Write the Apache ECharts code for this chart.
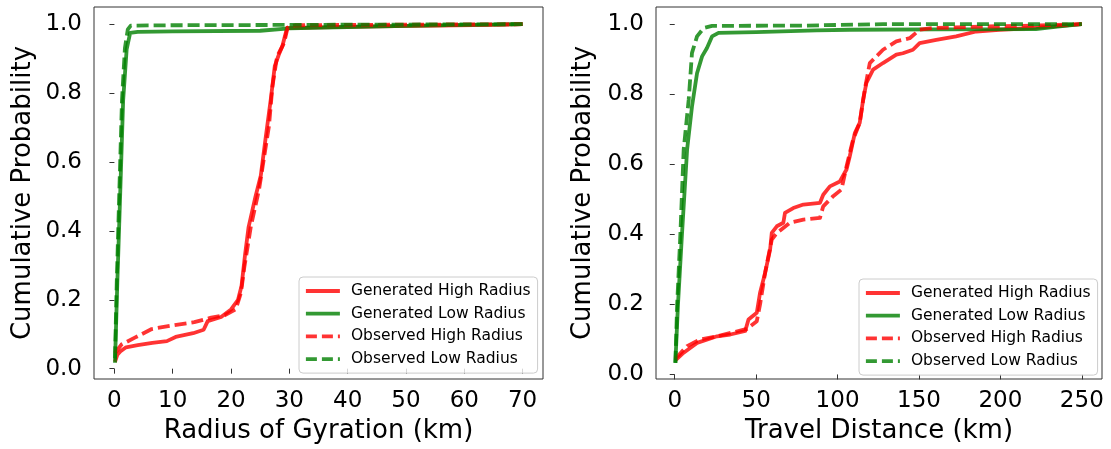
<!DOCTYPE html>
<html>
<head>
<meta charset="utf-8">
<script src="https://cdn.jsdelivr.net/npm/echarts@6/dist/echarts.min.js"></script>
<style>html,body{margin:0;padding:0;background:#fff;}#c{width:1111px;height:449px;}</style>
</head>
<body>
<div id="c"></div>
<script>
// ---- Data ----
const seriesNames = ['Generated High Radius', 'Generated Low Radius', 'Observed High Radius', 'Observed Low Radius'];
const yTicks = [0, 0.2, 0.4, 0.6, 0.8, 1.0];
const xTicksRadius = [0, 10, 20, 30, 40, 50, 60, 70];
const xTicksTravel = [0, 50, 100, 150, 200, 250];

// Left panel: Radius of Gyration (km)
const radiusGenHigh = [[0.1,0.02],[0.5,0.04],[1,0.05],[2,0.062],[4,0.068],[6.5,0.075],[9,0.08],[10.5,0.092],[13.5,0.103],[15.3,0.113],[16,0.138],[18.3,0.15],[20,0.172],[21.2,0.2],[21.8,0.24],[22.4,0.33],[23,0.41],[24.2,0.5],[25.1,0.56],[25.9,0.665],[26.8,0.78],[27.5,0.878],[28.2,0.912],[28.8,0.936],[29.6,0.989],[35,0.991],[45,0.994],[55,0.996],[65,0.998],[70,1.0]];
const radiusGenLow = [[0.1,0.017],[0.5,0.25],[0.96,0.49],[1.5,0.78],[2.1,0.927],[2.7,0.975],[4,0.978],[10,0.979],[25,0.981],[30,0.988],[40,0.992],[50,0.995],[60,0.998],[70,1.0]];
const radiusObsHigh = [[0.1,0.045],[1.2,0.07],[3.5,0.09],[6.4,0.115],[9.8,0.125],[13.7,0.135],[16.6,0.148],[18.9,0.155],[20.8,0.172],[21.7,0.22],[22.3,0.297],[23.4,0.413],[24.8,0.52],[25.7,0.617],[26.5,0.704],[27.1,0.82],[27.9,0.907],[29.1,0.946],[29.7,0.99],[31,0.997],[40,0.998],[55,0.999],[70,1.0]];
const radiusObsLow = [[0.1,0.03],[0.4,0.25],[0.8,0.49],[1.3,0.78],[1.8,0.93],[2.3,0.985],[2.8,0.996],[10,0.997],[30,0.998],[50,0.999],[70,1.0]];

// Right panel: Travel Distance (km)
const travelGenHigh = [[0.4,0.04],[5.5,0.062],[13.7,0.09],[26,0.109],[34.1,0.114],[43.3,0.124],[45.3,0.157],[50.4,0.176],[52.4,0.233],[55.5,0.29],[58.6,0.357],[59.6,0.404],[62.7,0.423],[66.7,0.433],[67.7,0.461],[72.8,0.475],[79,0.485],[89.2,0.49],[91.2,0.513],[95.3,0.537],[101.4,0.551],[105.5,0.585],[107.5,0.623],[110.6,0.689],[113.6,0.718],[115.7,0.784],[117.7,0.832],[121.8,0.87],[127.9,0.889],[136.1,0.913],[140.1,0.917],[146.3,0.927],[150.4,0.946],[160.6,0.955],[172.8,0.965],[185.1,0.979],[199.3,0.984],[219.7,0.989],[250,1.0]];
const travelGenLow = [[0.4,0.033],[2,0.2],[4.5,0.404],[7.6,0.642],[10.6,0.765],[13.7,0.86],[16.8,0.908],[19.8,0.932],[22.9,0.965],[26.9,0.975],[50,0.977],[87,0.982],[107.5,0.984],[160,0.985],[221.8,0.986],[235,0.993],[250,1.0]];
const travelObsHigh = [[0.4,0.045],[7.6,0.081],[15.7,0.1],[26,0.109],[44.3,0.13],[50.4,0.152],[52.4,0.2],[55.5,0.29],[59.6,0.385],[62.7,0.404],[70.8,0.433],[79,0.442],[89.2,0.447],[91.2,0.48],[97.3,0.509],[102.4,0.528],[105.5,0.594],[109.5,0.67],[113.6,0.718],[116.7,0.813],[119.8,0.889],[127.9,0.927],[136.1,0.951],[144.3,0.96],[150.4,0.984],[158.5,0.989],[189,0.993],[219.7,0.996],[250,1.0]];
const travelObsLow = [[0.4,0.033],[1.5,0.2],[3.5,0.404],[5.5,0.642],[8.6,0.785],[10.6,0.918],[13.7,0.965],[17.8,0.989],[22.9,0.995],[80,0.996],[128,1.0],[250,1.0]];

// ---- Styling / chart ----
const FONT = 'DejaVu Sans';
const RED = '#ff0000', GREEN = '#008000';
const AXC = '#333';
const DASH = [12, 5];
const LW = 3.8;
const seriesColors = [RED, GREEN, RED, GREEN];
const seriesDashed = [false, false, true, true];

function mkX(idx, min, max, ticks, name) {
  return {
    type: 'value', gridIndex: idx, min: min, max: max,
    name: name, nameLocation: 'middle', nameGap: 38,
    nameTextStyle: { fontFamily: FONT, fontSize: 26, color: '#000' },
    axisLine: { show: false },
    axisTick: { show: true, inside: false, length: 5, customValues: ticks, lineStyle: { color: AXC, width: 1 } },
    axisLabel: { customValues: ticks, margin: 11, fontFamily: FONT, fontSize: 23, color: '#000' },
    splitLine: { show: false }
  };
}
function mkY(idx, min, max, gap) {
  return {
    type: 'value', gridIndex: idx, min: min, max: max,
    name: 'Cumulative Probability', nameLocation: 'middle', nameGap: gap,
    nameTextStyle: { fontFamily: FONT, fontSize: 26, color: '#000' },
    axisLine: { show: false },
    axisTick: { show: true, inside: false, length: 5, customValues: yTicks, lineStyle: { color: AXC, width: 1 } },
    axisLabel: { customValues: yTicks, margin: 12, fontFamily: FONT, fontSize: 23, color: '#000',
      formatter: v => v.toFixed(1) },
    splitLine: { show: false }
  };
}
function mkS(name, data, color, dashed, idx) {
  return {
    type: 'line', name: name, data: data, xAxisIndex: idx, yAxisIndex: idx,
    symbol: 'none', showSymbol: false, color: color, z: 2,
    lineStyle: { color: color, width: LW, opacity: 0.8, type: dashed ? DASH : 'solid', cap: 'butt', join: 'round' },
    animation: false
  };
}
function mkLegend(left, top) {
  return {
    orient: 'vertical', left: left, top: top, selectedMode: false,
    data: seriesNames.map((n, i) => ({
      name: n,
      itemStyle: { opacity: 0, borderWidth: 0 },
      lineStyle: { color: seriesColors[i], width: LW, opacity: 0.8, type: seriesDashed[i] ? [11, 5] : 'solid', cap: 'butt' }
    })),
    itemWidth: 34, itemHeight: 14, itemGap: 6.7,
    padding: [6, 7, 6, 5],
    borderColor: '#cccccc', borderWidth: 1, borderRadius: 4,
    backgroundColor: 'rgba(255,255,255,0.8)',
    textStyle: { fontFamily: FONT, fontSize: 15.5, color: '#000', lineHeight: 16, padding: [0, 0, 0, 6] }
  };
}

const chart = echarts.init(document.getElementById('c'), null, { renderer: 'canvas' });
chart.setOption({
  animation: false,
  backgroundColor: '#fff',
  grid: [
    { left: 94, top: 7, width: 449, height: 372, show: true, borderColor: AXC, borderWidth: 1, backgroundColor: 'transparent', outerBoundsMode: 'none', containLabel: false },
    { left: 656, top: 7, width: 446, height: 372, show: true, borderColor: AXC, borderWidth: 1, backgroundColor: 'transparent', outerBoundsMode: 'none', containLabel: false }
  ],
  xAxis: [
    mkX(0, -3.5, 73.5, xTicksRadius, 'Radius of Gyration (km)'),
    mkX(1, -11.5, 262.4, xTicksTravel, 'Travel Distance (km)')
  ],
  yAxis: [
    mkY(0, -0.03, 1.05, 58),
    mkY(1, -0.013, 1.049, 60)
  ],
  legend: [mkLegend(299, 277), mkLegend(859, 279)],
  series: [
    mkS(seriesNames[0], radiusGenHigh, RED, false, 0),
    mkS(seriesNames[1], radiusGenLow, GREEN, false, 0),
    mkS(seriesNames[2], radiusObsHigh, RED, true, 0),
    mkS(seriesNames[3], radiusObsLow, GREEN, true, 0),
    mkS(seriesNames[0], travelGenHigh, RED, false, 1),
    mkS(seriesNames[1], travelGenLow, GREEN, false, 1),
    mkS(seriesNames[2], travelObsHigh, RED, true, 1),
    mkS(seriesNames[3], travelObsLow, GREEN, true, 1)
  ]
});
</script>
</body>
</html>
